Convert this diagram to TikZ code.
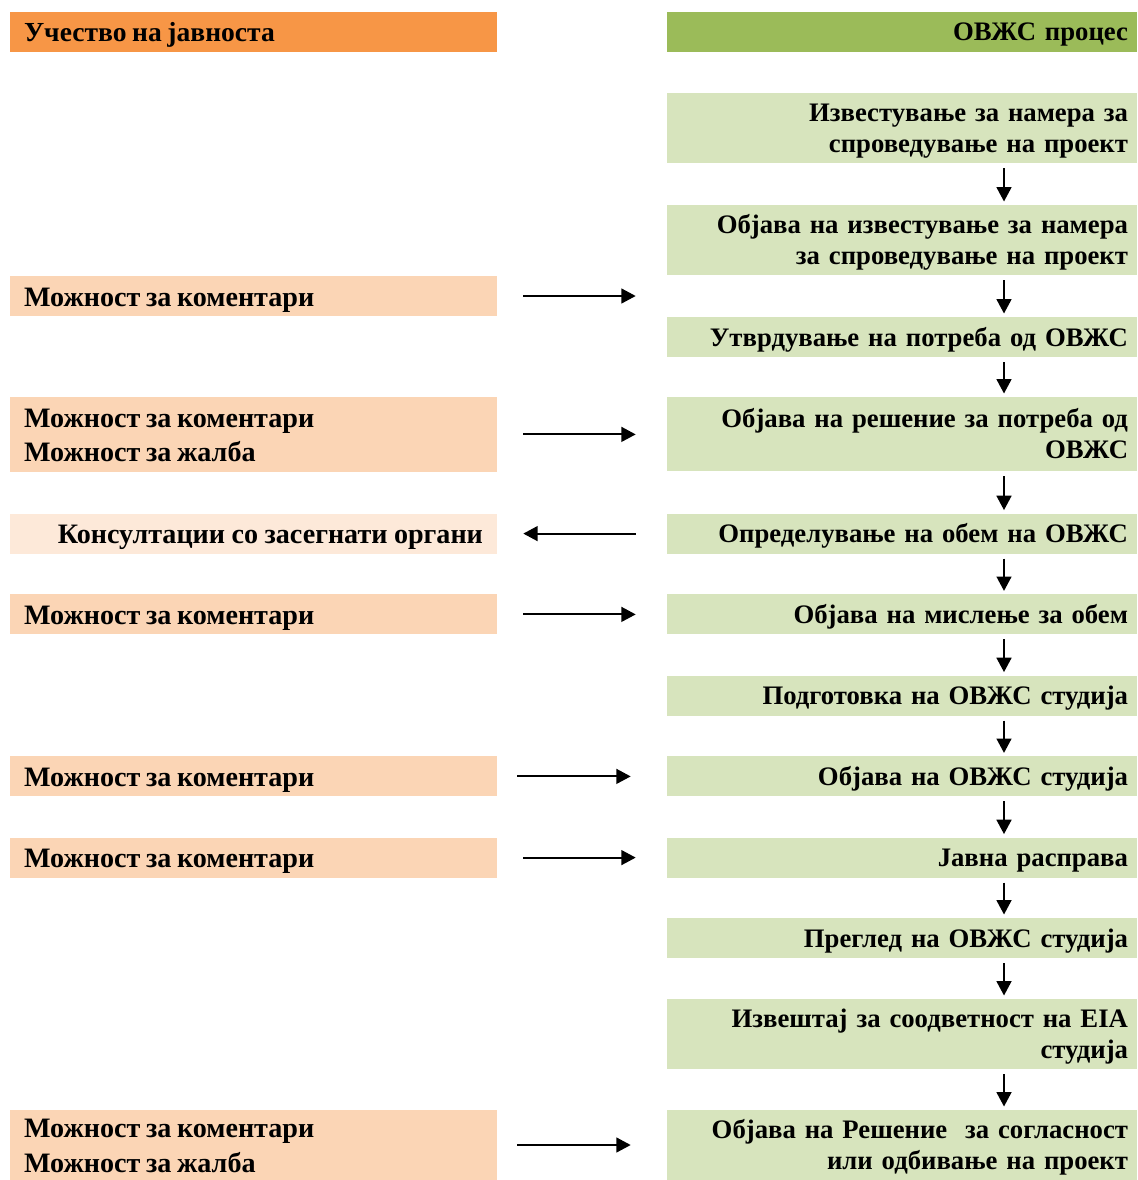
\documentclass[tikz,border=0pt]{standalone}
\usepackage{fontspec}
\setmainfont{Liberation Serif}
\usetikzlibrary{arrows.meta,positioning}
\definecolor{headorange}{RGB}{247,150,70}
\definecolor{headgreen}{RGB}{155,187,89}
\definecolor{lightorange}{RGB}{251,213,181}
\definecolor{paleorange}{RGB}{253,233,217}
\definecolor{lightgreen}{RGB}{215,228,189}

\begin{document}
\begin{tikzpicture}[>={Triangle[length=0.36cm,width=0.37cm]},
  rbox/.style={font=\fontsize{19}{22}\selectfont\bfseries,fill=lightgreen,minimum width=11.75cm,text width=11.3cm,inner xsep=0.225cm,inner ysep=0pt,align=right,minimum height=1cm,text height=17pt,text depth=4.2pt},
  rtwo/.style={minimum height=1.75cm,text depth=26.2pt},
  lbox/.style={font=\fontsize{20}{24.6}\selectfont\bfseries,fill=lightorange,minimum width=12.175cm,text width=11.475cm,inner xsep=0.35cm,inner ysep=0pt,align=left,minimum height=1cm,text height=19pt,text depth=4.5pt,execute at begin node={\spaceskip=4pt plus 1pt}},
  ltwo/.style={minimum height=1.75cm,text depth=29.1pt},
  flow/.style={->,line width=1.5pt}]
\useasboundingbox (0,0) rectangle (28.425,-29.5);
% headers
\node[lbox,fill=headorange,text height=17.5pt,font=\fontsize{19.6}{23}\selectfont\bfseries] (lhead) at (6.3375,-0.8) {Учество на јавноста};
\node[rbox,fill=headgreen] (rhead) at (22.55,-0.8) {ОВЖС процес};
% OVZS process
\node[rbox,rtwo] (r1) at (22.55,-3.2) {Известување за намера за\\спроведување на проект};
\node[rbox,rtwo] (r2) at (22.55,-6.0) {Објава на известување за намера\\за спроведување на проект};
\node[rbox] (r3) at (22.55,-8.425) {Утврдување на потреба од ОВЖС};
\node[rbox,rtwo,minimum height=1.85cm] (r4) at (22.55,-10.85) {Објава на решение за потреба од\\ОВЖС};
\node[rbox] (r5) at (22.55,-13.34) {Определување на обем на ОВЖС};
\node[rbox] (r6) at (22.55,-15.36) {Објава на мислење за обем};
\node[rbox] (r7) at (22.55,-17.39) {Подготовка на ОВЖС студија};
\node[rbox] (r8) at (22.55,-19.41) {Објава на ОВЖС студија};
\node[rbox] (r9) at (22.55,-21.44) {Јавна расправа};
\node[rbox] (r10) at (22.55,-23.45) {Преглед на ОВЖС студија};
\node[rbox,rtwo] (r11) at (22.55,-25.85) {Извештај за соодветност на EIA\\студија};
\node[rbox,rtwo] (r12) at (22.55,-28.625) {Објава на Решение \ за согласност\\или одбивање на проект};
% public participation
\node[lbox] (la) at (6.3375,-7.4) {Можност за коментари};
\node[lbox,ltwo,minimum height=1.875cm] (lb) at (6.3375,-10.86) {Можност за коментари\\Можност за жалба};
\node[lbox,fill=paleorange,align=right] (lc) at (6.3375,-13.34) {Консултации со засегнати органи};
\node[lbox] (ld) at (6.3375,-15.36) {Можност за коментари};
\node[lbox] (le) at (6.3375,-19.41) {Можност за коментари};
\node[lbox] (lf) at (6.3375,-21.44) {Можност за коментари};
\node[lbox,ltwo] (lg) at (6.3375,-28.625) {Можност за коментари\\Можност за жалба};
% process arrows
\coordinate (ax) at (25.1,0);
\foreach \a/\b in {r1/r2,r2/r3,r3/r4,r4/r5,r5/r6,r6/r7,r7/r8,r8/r9,r9/r10,r10/r11,r11/r12}
  \draw[flow,shorten <=0.12cm,shorten >=0.08cm] (\a.south -| ax) -- (\b.north -| ax);
% participation arrows
\foreach \l/\r in {la/r3,lb/r4,ld/r6,lf/r9}
  \draw[flow,shorten <=0.65cm,shorten >=0.775cm] (\l.east) -- (\l.east -| \r.west);
\foreach \l/\r in {le/r8,lg/r12}
  \draw[flow,shorten <=0.5cm,shorten >=0.9cm] (\l.east) -- (\l.east -| \r.west);
\draw[flow,shorten <=0.775cm,shorten >=0.65cm] (r5.west) -- (lc.east);
\end{tikzpicture}
\end{document}
